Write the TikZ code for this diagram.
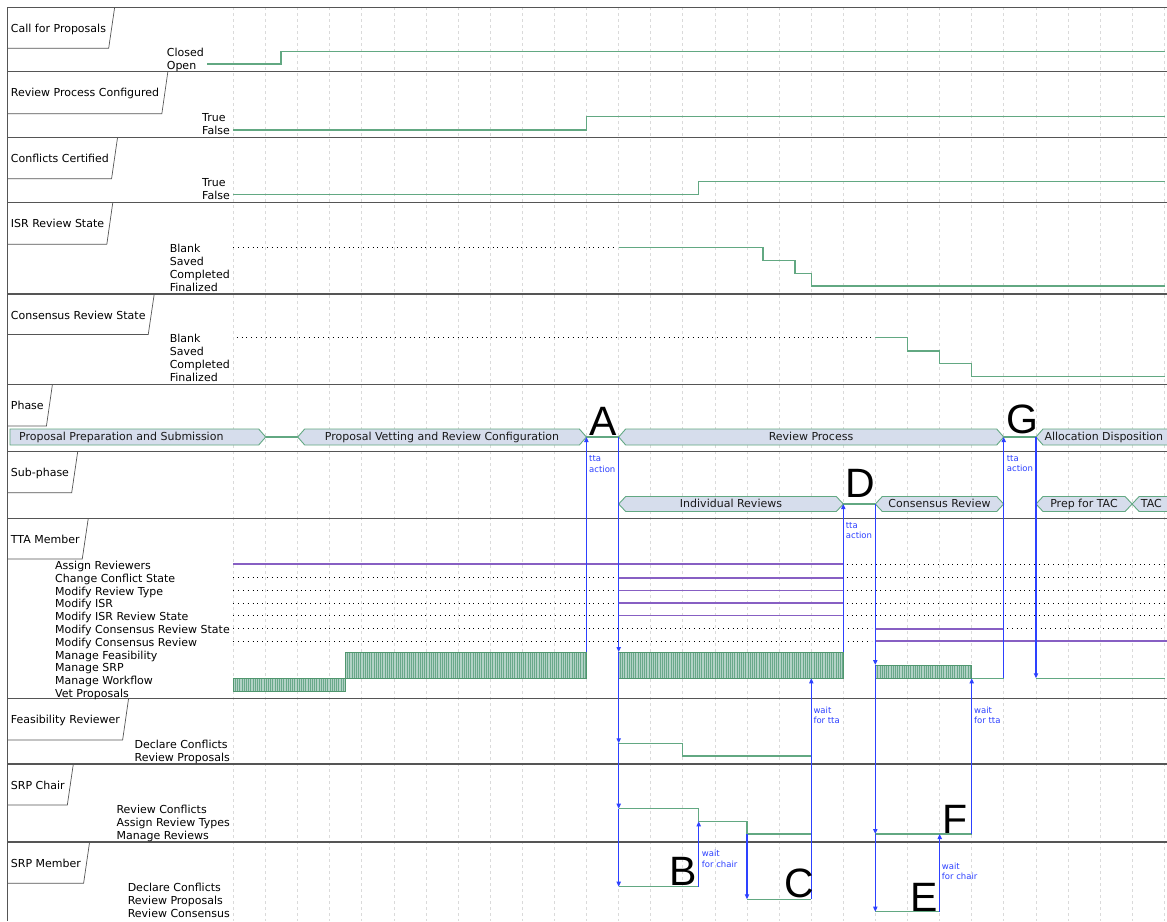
\documentclass[tikz,border=0pt]{standalone}
\usepackage{fontspec}
\setmainfont{DejaVu Sans}
\newfontfamily\letterfont{Liberation Sans}
\usetikzlibrary{calc,arrows.meta,patterns.meta}
\definecolor{wavegreen}{RGB}{98,168,130}
\definecolor{lanegray}{RGB}{85,85,85}
\definecolor{gridgray}{RGB}{218,218,218}
\definecolor{wpurple}{RGB}{135,95,195}
\definecolor{ablue}{RGB}{45,65,255}
\definecolor{busfill}{RGB}{214,221,236}
\definecolor{hatchfill}{RGB}{178,210,198}
\definecolor{hatchline}{RGB}{105,168,138}
\definecolor{hatchedge}{RGB}{80,150,110}
\newcommand\mainsz{\fontsize{11}{12.8}\selectfont}
\newcommand\notesz{\fontsize{8.5}{10.5}\selectfont}
\tikzset{
  lanetitlest/.style={anchor=base west, inner sep=0pt, font=\mainsz},
  vlabst/.style={anchor=north east, inner sep=0pt, font=\mainsz},
  notest/.style={anchor=north west, inner sep=0pt, font=\notesz, text=ablue},
  seglab/.style={anchor=base, inner sep=0pt, font=\mainsz, text=black!90},
  bigletter/.style={anchor=base, inner sep=0pt, font=\letterfont\fontsize{41}{41}\selectfont},
  tabst/.style={draw=lanegray, line width=0.7pt},
  laneline/.style={draw=lanegray, line width=1.3pt},
  gridline/.style={draw=gridgray, line width=0.6pt, dash pattern=on 3pt off 3pt},
  wave/.style={draw=wavegreen, line width=1.1pt},
  pline/.style={draw=wpurple, line width=1.8pt},
  dotline/.style={draw=black, line width=0.9pt, dash pattern=on 0.9pt off 3.9pt},
  bus/.style={draw=wavegreen, line width=0.9pt, fill=busfill},
  busfillonly/.style={fill=busfill},
  busedge/.style={draw=wavegreen, line width=0.9pt},
  hatch/.style={draw=hatchedge, line width=0.8pt, preaction={fill=hatchfill},
    pattern={Lines[angle=90,distance=2.2pt,line width=0.9pt]}, pattern color=hatchline},
  barrow/.style={draw=ablue, line width=1.2pt, -{Triangle[length=5pt,width=4.2pt]}},
}
\newcommand\lanetitle[4]{%
  \node[lanetitlest] (#1) at (10.7,#2+25) {#4};
  \draw[tabst] ($(#1.east |- 0,#2)+(8.5,0)$) -- ($(#1.east |- 0,#3)+(2.5,0)$) -- (7.3,#3);
}
\newcommand\vlabels[4]{\node[vlabst] (#1) at (#2,#3) {\begin{tabular}{@{}l@{}}#4\end{tabular}};}
\newcommand\busseg[4]{%
  \draw[bus] (#1,#3) -- (#1+7,#3-#4) -- (#2-7,#3-#4) -- (#2,#3) -- (#2-7,#3+#4) -- (#1+7,#3+#4) -- cycle;}
\begin{document}
\begin{tikzpicture}[x=1pt,y=-1pt]
\useasboundingbox (0,0) rectangle (1167,921);
\fill[white] (0,0) rectangle (1167,921);
% grid
\foreach \k in {0,...,29}{\draw[gridline] ({233.3+32.1*\k},7.3) -- ({233.3+32.1*\k},921);}
% lanes
\foreach \yy in {7.3,71.7,137.3,202.3,294,384.3,451.7,518.5,698.3,764,842}{\draw[laneline] (7.3,\yy) -- (1167,\yy);}
\draw[laneline] (7.3,7.3) -- (7.3,921);
% lane titles
\lanetitle{t1}{7.3}{48.3}{Call for Proposals}
\lanetitle{t2}{71.7}{113.7}{Review Process Configured}
\lanetitle{t3}{137.3}{178.7}{Conflicts Certified}
\lanetitle{t4}{202.3}{244.3}{ISR Review State}
\lanetitle{t5}{294}{334.5}{Consensus Review State}
\lanetitle{t6}{384.3}{426}{Phase}
\lanetitle{t7}{451.7}{492.7}{Sub-phase}
\lanetitle{t8}{518.5}{559}{TTA Member}
\lanetitle{t9}{698.3}{740}{Feasibility Reviewer}
\lanetitle{t10}{764}{805}{SRP Chair}
\lanetitle{t11}{842}{883.3}{SRP Member}
% value labels
\vlabels{v1}{204}{47.7}{Closed\\Open}
\vlabels{v2}{230}{112.7}{True\\False}
\vlabels{v3}{230}{177.7}{True\\False}
\vlabels{v4}{230}{243.7}{Blank\\Saved\\Completed\\Finalized}
\vlabels{v5}{230}{333.7}{Blank\\Saved\\Completed\\Finalized}
\vlabels{v8}{230}{560.3}{Assign Reviewers\\Change Conflict State\\Modify Review Type\\Modify ISR\\Modify ISR Review State\\Modify Consensus Review State\\Modify Consensus Review\\Manage Feasibility\\Manage SRP\\Manage Workflow\\Vet Proposals}
\vlabels{v9}{230}{739.3}{Declare Conflicts\\Review Proposals}
\vlabels{v10}{230}{804.7}{Review Conflicts\\Assign Review Types\\Manage Reviews}
\vlabels{v11}{230}{882.7}{Declare Conflicts\\Review Proposals\\Review Consensus}
% simple waveforms
\draw[wave] (207,64) -- (281,64) -- (281,51.7) -- (1165,51.7);
\draw[wave] (233.3,130) -- (586.4,130) -- (586.4,116.7) -- (1165,116.7);
\draw[wave] (233.3,194.7) -- (698.7,194.7) -- (698.7,181.7) -- (1165,181.7);
\draw[dotline] (233.3,247.7) -- (615,247.7);
\draw[wave] (618.7,247.7) -- (763,247.7) -- (763,260.3) -- (795,260.3) -- (795,273.3) -- (811.3,273.3) -- (811.3,286) -- (1165,286);
\draw[dotline] (236.7,337.7) -- (871.7,337.7);
\draw[wave] (875.3,337.7) -- (907.3,337.7) -- (907.3,351) -- (939.7,351) -- (939.7,363.7) -- (971.7,363.7) -- (971.7,376.7) -- (1165,376.7);
% phase
\draw[bus] (10,429) -- (258.7,429) -- (265.7,437) -- (258.7,445) -- (10,445) -- cycle;
\draw[wave] (265.7,437) -- (297.7,437);
\busseg{297.7}{586.4}{437}{8}
\draw[wave] (586.4,437) -- (618.7,437);
\busseg{618.7}{1003.7}{437}{8}
\draw[wave] (1003.7,437) -- (1036,437);
\fill[busfillonly] (1036,437) -- (1043,429) -- (1167,429) -- (1167,445) -- (1043,445) -- cycle;
\draw[busedge] (1167,429) -- (1043,429) -- (1036,437) -- (1043,445) -- (1167,445);
\node[seglab] (ph1) at (121.3,440.7) {Proposal Preparation and Submission};
\node[seglab] (ph2) at (442,440.7) {Proposal Vetting and Review Configuration};
\node[seglab] (ph3) at (811,440.7) {Review Process};
\node[seglab, anchor=base west] (ph4) at (1044.3,440.7) {Allocation Disposition};
% sub-phase
\busseg{618.7}{843.3}{504}{7.5}
\draw[wave] (843.3,504) -- (875.3,504);
\busseg{875.3}{1003.7}{504}{7.5}
\busseg{1036}{1132.1}{504}{7.5}
\fill[busfillonly] (1132.1,504) -- (1139.1,496.5) -- (1167,496.5) -- (1167,511.5) -- (1139.1,511.5) -- cycle;
\draw[busedge] (1167,496.5) -- (1139.1,496.5) -- (1132.1,504) -- (1139.1,511.5) -- (1167,511.5);
\node[seglab] (sp1) at (731,507.7) {Individual Reviews};
\node[seglab] (sp2) at (939.5,507.7) {Consensus Review};
\node[seglab] (sp3) at (1084,507.7) {Prep for TAC};
\node[seglab, anchor=base west] (sp4) at (1140.7,507.7) {TAC};
% TTA member
\draw[pline] (233.3,564.3) -- (843.3,564.3);
\draw[dotline] (846.7,564.3) -- (1165,564.3);
\foreach \yy in {577.8,590.5,603,615.5}{
  \draw[dotline] (233.3,\yy) -- (615,\yy);
  \draw[pline] (618.7,\yy) -- (843.3,\yy);
  \draw[dotline] (846.7,\yy) -- (1165,\yy);
}
\draw[dotline] (233.3,628.8) -- (871.7,628.8);
\draw[pline] (875.3,628.8) -- (1003.7,628.8);
\draw[dotline] (1007,628.8) -- (1165,628.8);
\draw[dotline] (233.3,641.2) -- (871.7,641.2);
\draw[pline] (875.3,641.2) -- (1167,641.2);
\draw[hatch] (233.3,678.3) rectangle (345.7,691);
\draw[hatch] (345.7,652) rectangle (586.4,678.3);
\draw[hatch] (618.7,652) rectangle (843.3,678.3);
\draw[hatch] (875.3,665) rectangle (971.7,678.3);
\draw[wave] (971.7,678.3) -- (1003.7,678.3);
\draw[wave] (1036,678.3) -- (1165,678.3);
% feasibility, chair, member
\draw[wave] (618.7,743.3) -- (682.7,743.3) -- (682.7,756) -- (811.3,756);
\draw[wave] (618.7,808.7) -- (698.7,808.7) -- (698.7,821.3) -- (747,821.3) -- (747,834) -- (811.3,834);
\draw[wave] (875.3,834) -- (971.7,834);
\draw[wave] (618.7,886.7) -- (698.7,886.7);
\draw[wave] (747,899.3) -- (811.3,899.3);
\draw[wave] (875.3,911.7) -- (939.7,911.7);
% arrow coordinates
\coordinate (a1s) at (586.4,652);   \coordinate (a1e) at (586.4,437);
\coordinate (r0) at (618.7,437);    \coordinate (r1) at (618.7,652);
\coordinate (r2) at (618.7,743.3);  \coordinate (r3) at (618.7,808.7);
\coordinate (r4) at (618.7,886.7);
\coordinate (bcs) at (698.7,886.7); \coordinate (bce) at (698.7,821.3);
\coordinate (c1s) at (747,834);     \coordinate (c1e) at (747,899.3);
\coordinate (w1s) at (811.3,899.3); \coordinate (w1e) at (811.3,678.3);
\coordinate (d1s) at (843.3,652);   \coordinate (d1e) at (843.3,504);
\coordinate (s0) at (875.3,504);    \coordinate (s1) at (875.3,665);
\coordinate (s2) at (875.3,834);    \coordinate (s3) at (875.3,911.7);
\coordinate (ecs) at (939.7,911.7); \coordinate (ece) at (939.7,834);
\coordinate (w2s) at (971.7,834);   \coordinate (w2e) at (971.7,678.3);
\coordinate (g1s) at (1003.7,678.3);\coordinate (g1e) at (1003.7,437);
\coordinate (g2s) at (1036,437);    \coordinate (g2e) at (1036,678.3);
% blue arrows
\draw[barrow] (a1s) -- (a1e);
\draw[barrow] (r0) -- (r1);
\draw[barrow] (r1) -- (r2);
\draw[barrow] (r2) -- (r3);
\draw[barrow] (r3) -- (r4);
\draw[barrow] (bcs) -- (bce);
\draw[barrow] (c1s) -- (c1e);
\draw[barrow] (w1s) -- (w1e);
\draw[barrow] (d1s) -- (d1e);
\draw[barrow] (s0) -- (s1);
\draw[barrow] (s1) -- (s2);
\draw[barrow] (s2) -- (s3);
\draw[barrow] (ecs) -- (ece);
\draw[barrow] (w2s) -- (w2e);
\draw[barrow] (g1s) -- (g1e);
\draw[barrow] (g2s) -- (g2e);
% notes
\node[notest] (n1) at (589,454) {\begin{tabular}{@{}l@{}}tta\\action\end{tabular}};
\node[notest] (n2) at (845.7,520.7) {\begin{tabular}{@{}l@{}}tta\\action\end{tabular}};
\node[notest] (n3) at (1006.7,453.7) {\begin{tabular}{@{}l@{}}tta\\action\end{tabular}};
\node[notest] (n4) at (813.3,705.7) {\begin{tabular}{@{}l@{}}wait\\for tta\end{tabular}};
\node[notest] (n5) at (974,705.7) {\begin{tabular}{@{}l@{}}wait\\for tta\end{tabular}};
\node[notest] (n6) at (701.7,849.4) {\begin{tabular}{@{}l@{}}wait\\for chair\end{tabular}};
\node[notest] (n7) at (941.7,861.7) {\begin{tabular}{@{}l@{}}wait\\for chair\end{tabular}};
% big letters
\node[bigletter] (LA) at (603.3,435) {A};
\node[bigletter] (LG) at (1022.8,433) {G};
\node[bigletter] (LD) at (860,497.3) {D};
\node[bigletter] (LB) at (683,885.7) {B};
\node[bigletter] (LC) at (799,897.5) {C};
\node[bigletter] (LE) at (924,911) {E};
\node[bigletter] (LF) at (955.5,833.3) {F};
\end{tikzpicture}
\end{document}
